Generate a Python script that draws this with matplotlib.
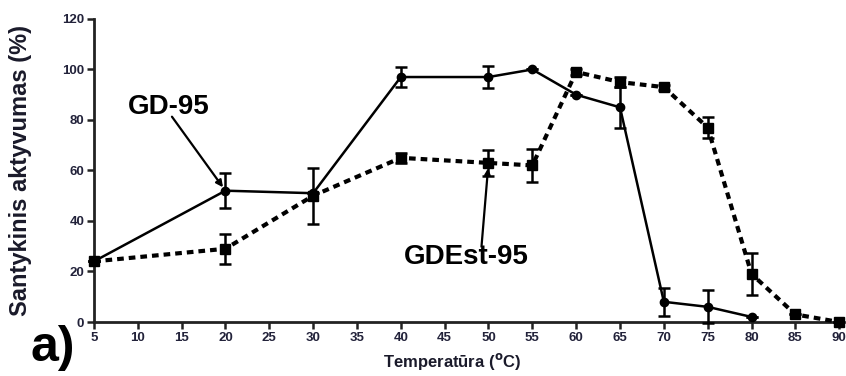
import matplotlib
matplotlib.use("Agg")
import matplotlib.pyplot as plt

plt.rcParams['font.family'] = ['Liberation Sans', 'DejaVu Sans']

temps_gd = [5, 20, 30, 40, 50, 55, 60, 65, 70, 75, 80]
act_gd = [24, 52, 51, 97, 97, 100, 90, 85, 8, 6, 2]
err_gd = [0, 7, 0, 4, 4.5, 0, 0, 8, 5.5, 6.5, 0]

temps_est = [5, 20, 30, 40, 50, 55, 60, 65, 70, 75, 80, 85, 90]
act_est = [24, 29, 50, 65, 63, 62, 99, 95, 93, 77, 19, 3, 0]
err_est = [0, 6, 11, 2, 5, 6.5, 1, 2, 1, 4, 8.5, 0, 0]

xticks = list(range(5, 95, 5))
yticks = list(range(0, 140, 20))

fig = plt.figure(figsize=(8.46, 3.76), dpi=100)
ax = fig.add_axes([0.111, 0.1436, 0.881, 0.806])

ax.errorbar(temps_gd, act_gd, yerr=err_gd, color='black', lw=1.8,
            marker='o', ms=6, capsize=4, elinewidth=1.8, capthick=1.8,
            clip_on=False, zorder=3)
ax.errorbar(temps_est, act_est, yerr=err_est, color='black', lw=3,
            ls=(0, (1.6, 1.2)), marker='s', ms=7, capsize=4,
            elinewidth=1.8, capthick=1.8, clip_on=False, zorder=3)

ax.set_xlim(5, 90)
ax.set_ylim(0, 120)
ax.set_xticks(xticks)
ax.set_yticks(yticks)
for s in ['top', 'right']:
    ax.spines[s].set_visible(False)
for s in ['left', 'bottom']:
    ax.spines[s].set_linewidth(2)
    ax.spines[s].set_color('#222222')
ax.tick_params(width=1.8, length=5, color='#222222', labelcolor='#22223a',
               labelsize=9.5, pad=2)
for lab in ax.get_xticklabels() + ax.get_yticklabels():
    lab.set_fontweight('bold')

ax.set_ylabel('Santykinis aktyvumas (%)', fontsize=17, fontweight='bold',
              color='#1a1a2a')
ax.yaxis.set_label_coords(-0.083, 0.5)
ax.set_xlabel('Temperatūra ($^{\\mathbf{o}}$C)', fontsize=12,
              fontweight='bold', color='#1a1a2a')
ax.xaxis.set_label_coords(0.48, -0.095)

# labels with pointer lines
ax.text(13.55, 85.3, 'GD-95', fontsize=20, fontweight='bold',
        ha='center', va='center')
ax.annotate('', xy=(20, 52), xytext=(13.9, 81.3),
            arrowprops=dict(arrowstyle='-|>', color='black', lw=1.6,
                            mutation_scale=10, shrinkA=0, shrinkB=3))
ax.text(47.5, 25.8, 'GDEst-95', fontsize=20, fontweight='bold',
        ha='center', va='center')
ax.annotate('', xy=(50, 63), xytext=(49.2, 29.8),
            arrowprops=dict(arrowstyle='-|>', color='black', lw=1.6,
                            mutation_scale=8, shrinkA=0, shrinkB=4))

fig.text(0.036, 0.04, 'a)', fontsize=36, fontweight='bold', color='black')

fig.savefig('out.png', dpi=100)
